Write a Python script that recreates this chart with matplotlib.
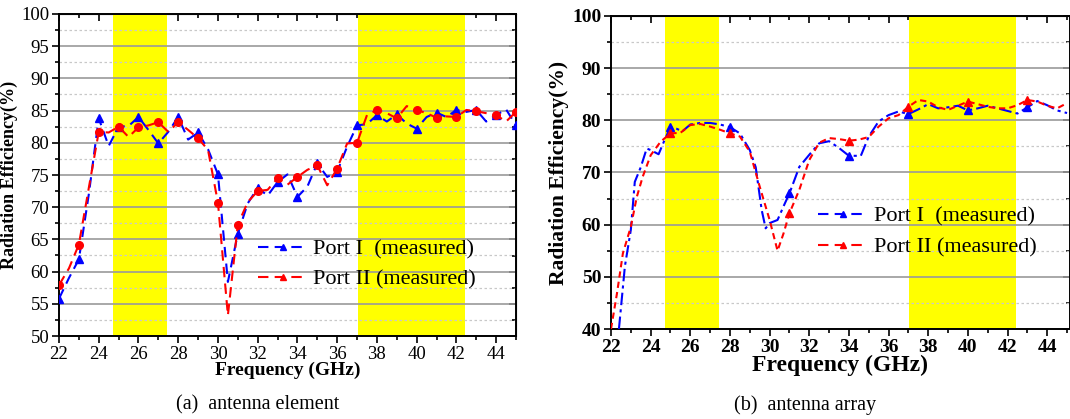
import numpy as np
import matplotlib
matplotlib.use('Agg')
import matplotlib.pyplot as plt
from matplotlib.lines import Line2D
from matplotlib.ticker import MultipleLocator

plt.rcParams['font.family'] = ['Liberation Serif', 'DejaVu Serif']

# (a) antenna element, samples every 0.5 GHz
freq_a = [22, 22.5, 23, 23.5, 24, 24.5, 25, 25.5, 26, 26.5, 27, 27.5, 28, 28.5, 29, 29.5,
          30, 30.5, 31, 31.5, 32, 32.5, 33, 33.5, 34, 34.5, 35, 35.5, 36, 36.5, 37, 37.5,
          38, 38.5, 39, 39.5, 40, 40.5, 41, 41.5, 42, 42.5, 43, 43.5, 44, 44.5, 45]
port1_a = [55.8, 59.0, 61.9, 72.0, 83.8, 79.5, 82.5, 82.6, 84.0, 82.0, 79.9, 81.7, 84.0, 80.5, 81.6, 79.0,
           75.1, 58.4, 65.9, 70.6, 73.0, 71.8, 73.9, 75.1, 71.6, 73.2, 76.8, 74.7, 75.5, 79.4, 82.7, 82.9,
           84.3, 83.3, 84.4, 83.0, 82.2, 84.0, 84.7, 84.0, 85.1, 84.8, 85.1, 83.3, 84.3, 85.2, 82.7]
port2_a = [57.9, 60.5, 64.2, 73.0, 81.7, 81.6, 82.5, 80.9, 82.4, 82.7, 83.2, 81.7, 83.2, 82.0, 80.7, 78.9,
           70.7, 53.2, 67.3, 70.8, 72.5, 72.7, 74.5, 73.5, 74.7, 75.8, 76.5, 73.4, 76.0, 79.9, 80.0, 84.3,
           85.1, 84.6, 83.8, 85.7, 85.1, 84.6, 83.9, 84.1, 84.0, 85.1, 84.9, 84.6, 84.3, 83.3, 84.8]

# (b) antenna array
freq_b1 = [22.4, 22.7, 23, 23.2, 23.5, 23.8, 24, 24.4, 24.7, 25, 25.3, 25.6, 26, 26.5, 27, 27.5,
           28, 28.5, 29, 29.3, 29.6, 29.8, 30, 30.4, 30.7, 31, 31.5, 32, 32.5, 33, 33.5, 34,
           34.6, 35, 35.5, 36, 36.5, 37, 37.5, 38, 38.5, 39, 39.5, 40, 40.5, 41, 41.5, 42,
           42.5, 43, 43.5, 44, 44.5, 45]
port1_b = [40.0, 52.0, 59.0, 68.2, 71.0, 74.6, 74.3, 73.5, 76.2, 78.7, 78.4, 77.9, 79.2, 79.5, 79.5, 79.2,
           78.7, 77.5, 74.3, 71.0, 62.8, 59.3, 60.3, 60.9, 63.5, 66.0, 71.1, 73.4, 75.6, 76.0, 74.7, 73.2,
           73.2, 76.9, 79.8, 81.0, 81.7, 81.2, 82.1, 83.1, 82.3, 82.5, 82.8, 81.9, 82.3, 82.8, 82.3, 81.8,
           81.3, 82.5, 83.7, 82.9, 81.9, 81.4]
freq_b2 = [22, 22.3, 22.6, 23, 23.3, 23.6, 24, 24.5, 25, 25.5, 26, 26.5, 27, 27.5, 28, 28.5,
           29, 29.5, 30, 30.4, 30.7, 31, 31.5, 32, 32.5, 33, 33.5, 34, 34.5, 35, 35.5, 36,
           36.5, 37, 37.5, 38, 38.5, 39, 39.5, 40, 40.5, 41, 41.5, 42, 42.5, 43, 43.5, 44,
           44.5, 45]
port2_b = [40.0, 46.8, 54.5, 59.6, 65.3, 69.2, 73.3, 75.9, 77.5, 77.6, 79.1, 79.3, 78.8, 78.2, 77.5, 76.9,
           74.0, 67.3, 60.9, 55.0, 58.3, 62.2, 66.7, 72.4, 75.7, 76.6, 76.4, 76.1, 76.3, 76.8, 78.8, 80.4,
           81.0, 82.6, 83.9, 83.6, 82.5, 82.0, 82.8, 83.6, 83.1, 82.6, 82.3, 82.3, 82.9, 83.9, 83.6, 82.8,
           82.3, 83.3]
marker_freqs_b = [25, 28, 31, 34, 37, 40, 43]

bands = [(24.7, 27.45), (37.05, 42.45)]
legend_labels = ['Port I  (measured)', 'Port II (measured)']

fig = plt.figure(figsize=(10.7, 4.19), dpi=100)
ax1 = fig.add_axes([59 / 1070, 1 - 336 / 419, 457 / 1070, 322 / 419])
ax2 = fig.add_axes([611 / 1070, 1 - 329 / 419, 459 / 1070, 313 / 419])


def style_axes(ax, ymin, ymax, ymaj, bold, lsize):
    ax.set_xlim(22, 45)
    ax.set_ylim(ymin, ymax)
    ax.xaxis.set_major_locator(MultipleLocator(2))
    ax.xaxis.set_minor_locator(MultipleLocator(1))
    ax.yaxis.set_major_locator(MultipleLocator(ymaj))
    ax.yaxis.set_minor_locator(MultipleLocator(ymaj / 2))
    ax.grid(True, which='major', axis='y', color='#9a9a9a', lw=1.2, ls='-')
    ax.grid(True, which='minor', axis='y', color='#c8c8c8', lw=0.9, ls=(0, (2, 2)))
    ax.set_axisbelow(True)
    ax.tick_params(which='both', direction='out', width=1.2, labelsize=lsize, pad=2)
    ax.tick_params(which='major', length=5)
    ax.tick_params(which='minor', length=3)
    for s in ax.spines.values():
        s.set_linewidth(1.4)
    for b in bands:
        ax.axvspan(b[0], b[1], color='#ffff00', zorder=0.5, lw=0)
    weight = 'bold' if bold else 'normal'
    for lab in ax.get_xticklabels() + ax.get_yticklabels():
        lab.set_fontweight(weight)
    # inward ticks on top and right spines
    top = ax.secondary_xaxis('top')
    top.xaxis.set_major_locator(MultipleLocator(2))
    top.xaxis.set_minor_locator(MultipleLocator(1))
    top.tick_params(which='both', direction='in', width=1.2, labeltop=False)
    top.tick_params(which='major', length=5)
    top.tick_params(which='minor', length=3)
    right = ax.secondary_yaxis('right')
    right.yaxis.set_major_locator(MultipleLocator(ymaj))
    right.yaxis.set_minor_locator(MultipleLocator(ymaj / 2))
    right.tick_params(which='both', direction='in', width=1.2, labelright=False)
    right.tick_params(which='major', length=5)
    right.tick_params(which='minor', length=3)


# (a)
style_axes(ax1, 50, 100, 5, False, 13.5)
ax1.plot(freq_a, port1_a, color='#0000ff', ls=(0, (5, 3)), lw=1.5, marker='^', ms=5.5,
         markevery=list(range(0, len(freq_a), 2)), zorder=3)
ax1.plot(freq_a, port2_a, color='#ff0000', ls=(0, (5, 3)), lw=1.5, marker='o', ms=5.5,
         markevery=list(range(0, len(freq_a), 2)), zorder=3)
ax1.set_xlabel('Frequency (GHz)', fontsize=14, fontweight='bold', labelpad=-1)
ax1.set_ylabel('Radiation Efficiency(%)', fontsize=13, fontweight='bold', labelpad=2)
h1 = [Line2D([], [], color='#0000ff', ls=(0, (5, 3)), lw=1.5, marker='^', ms=5, markevery=[1]),
      Line2D([], [], color='#ff0000', ls=(0, (5, 3)), lw=1.5, marker='^', ms=5, markevery=[1])]
ax1.legend(h1, legend_labels, loc='upper left',
           bbox_to_anchor=(0.435, 0.302), frameon=False, fontsize=16, handlelength=2.25,
           handletextpad=0.25, labelspacing=0.45, borderpad=0, borderaxespad=0)

# (b)
style_axes(ax2, 40, 100, 10, True, 14)
ax2.set_xlim(22, 45.15)
mk1 = [freq_b1.index(f) for f in marker_freqs_b]
mk2 = [freq_b2.index(f) for f in marker_freqs_b]
ax2.plot(freq_b1, port1_b, color='#0000ff', ls=(0, (6, 2, 1.5, 2)), lw=1.5, marker='^', ms=6,
         markevery=mk1, zorder=3)
ax2.plot(freq_b2, port2_b, color='#ff0000', ls=(0, (3, 2)), lw=1.5, marker='^', ms=6,
         markevery=mk2, zorder=3)
ax2.set_xlabel('Frequency (GHz)', fontsize=17, fontweight='bold', labelpad=-1)
ax2.set_ylabel('Radiation Efficiency(%)', fontsize=15.5, fontweight='bold', labelpad=2)
h2 = [Line2D([], [], color='#0000ff', ls=(0, (5, 3)), lw=1.5, marker='^', ms=5, markevery=[1]),
      Line2D([], [], color='#ff0000', ls=(0, (5, 3)), lw=1.5, marker='^', ms=5, markevery=[1])]
ax2.legend(h2, legend_labels, loc='upper left',
           bbox_to_anchor=(0.451, 0.392), frameon=False, fontsize=16, handlelength=2.25,
           handletextpad=0.25, labelspacing=0.45, borderpad=0, borderaxespad=0)

fig.text(258 / 1070, 1 - 405 / 419, '(a)  antenna element', ha='center', va='center', fontsize=14.5)
fig.text(805 / 1070, 1 - 405 / 419, '(b)  antenna array', ha='center', va='center', fontsize=14.5)

fig.savefig('out.png', dpi=100)
